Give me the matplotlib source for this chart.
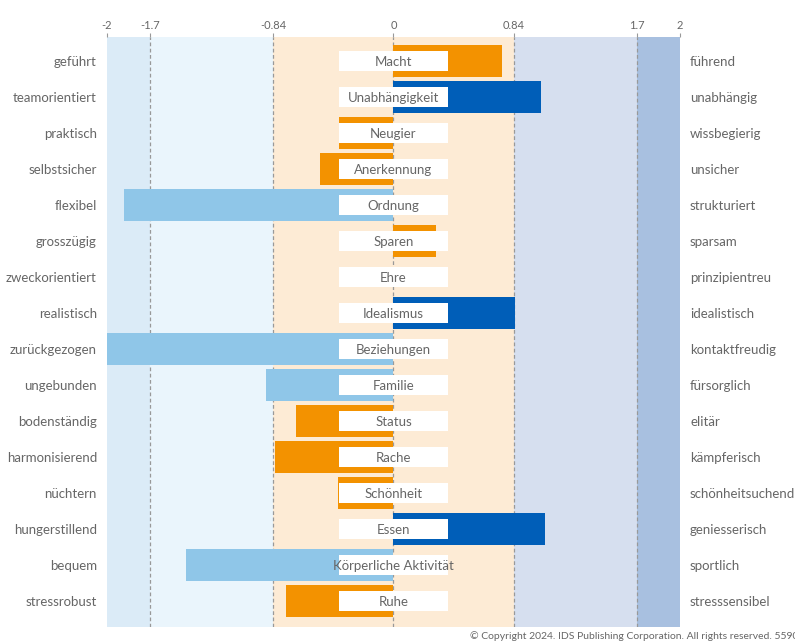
import numpy as np
import matplotlib.pyplot as plt

plt.rcParams['font.family'] = ['Lato', 'DejaVu Sans']

# data
motives = ["Macht", "Unabhängigkeit", "Neugier", "Anerkennung", "Ordnung", "Sparen",
           "Ehre", "Idealismus", "Beziehungen", "Familie", "Status", "Rache",
           "Schönheit", "Essen", "Körperliche Aktivität", "Ruhe"]
left_labels = ["geführt", "teamorientiert", "praktisch", "selbstsicher", "flexibel",
               "grosszügig", "zweckorientiert", "realistisch", "zurückgezogen",
               "ungebunden", "bodenständig", "harmonisierend", "nüchtern",
               "hungerstillend", "bequem", "stressrobust"]
right_labels = ["führend", "unabhängig", "wissbegierig", "unsicher", "strukturiert",
                "sparsam", "prinzipientreu", "idealistisch", "kontaktfreudig",
                "fürsorglich", "elitär", "kämpferisch", "schönheitsuchend",
                "geniesserisch", "sportlich", "stresssensibel"]
scores = [0.76, 1.03, -0.38, -0.51, -1.88, 0.30, 0.0, 0.85, -2.0, -0.89,
          -0.68, -0.83, -0.39, 1.06, -1.45, -0.75]
tick_vals = [-2, -1.7, -0.84, 0, 0.84, 1.7, 2]
tick_text = ["-2", "-1.7", "-0.84", "0", "0.84", "1.7", "2"]
bands = [(-2, -1.7, '#dbebf7'), (-1.7, -0.84, '#eaf5fc'), (-0.84, 0.84, '#fdebd5'),
         (0.84, 1.7, '#d6dfef'), (1.7, 2, '#a8c0e0')]

ORANGE = '#f39200'
DARK = '#005eb8'
LIGHT = '#8fc6e8'
GREY = '#666666'

fig = plt.figure(figsize=(7.95, 6.42), dpi=100)
ax = fig.add_axes([107/795, 1 - 627/642, 573/795, 590/642])

for a, b, c in bands:
    ax.axvspan(a, b, color=c, zorder=0, lw=0)
for v in [-1.7, -0.84, 0, 0.84, 1.7]:
    ax.axvline(v, color='#999999', ls=(0, (3, 2)), lw=0.9, zorder=1)

y = np.arange(len(motives))
colors = [DARK if s > 0.84 else LIGHT if s < -0.84 else ORANGE for s in scores]
ax.barh(y, scores, height=0.89, color=colors, zorder=2)

# white label boxes
ax.barh(y, 0.76, left=-0.38, height=0.56, color='white', zorder=3)
for i, m in enumerate(motives):
    ax.text(0, i + 0.03, m, ha='center', va='center', fontsize=9.5, color=GREY, zorder=4)
    ax.text(-2.07, i + 0.03, left_labels[i], ha='right', va='center', fontsize=9.5, color=GREY)
    ax.text(2.07, i + 0.03, right_labels[i], ha='left', va='center', fontsize=9.5, color=GREY)

ax.set_xlim(-2, 2)
ax.set_ylim(15.72, -0.67)
ax.set_yticks([])
ax.xaxis.tick_top()
ax.set_xticks(tick_vals)
ax.set_xticklabels(tick_text)
ax.tick_params(axis='x', length=3, color='#999999', labelsize=8, labelcolor=GREY, pad=1)
for sp in ax.spines.values():
    sp.set_visible(False)

fig.text(470/795, 1 - 636/642, "© Copyright 2024. IDS Publishing Corporation. All rights reserved. 55900",
         ha='left', va='center', fontsize=7.5, color=GREY)

fig.savefig('out.png', dpi=100)
